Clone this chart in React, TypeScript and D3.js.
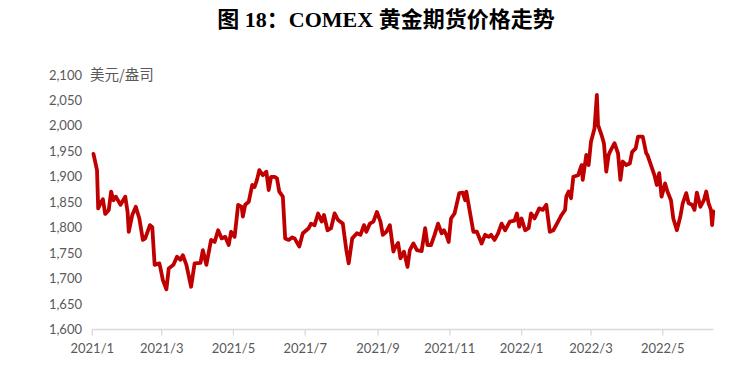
import React from "react";
import * as d3 from "d3";

const TITLE = "图 18：COMEX 黄金期货价格走势";
const UNIT = "美元/盎司";
const Y_TICKS = [1600, 1650, 1700, 1750, 1800, 1850, 1900, 1950, 2000, 2050, 2100];
const X_TICK_LABELS = ["2021/1", "2021/3", "2021/5", "2021/7", "2021/9", "2021/11", "2022/1", "2022/3", "2022/5"];
const X_TICK_MONTHS = [0, 2, 4, 6, 8, 10, 12, 14, 16];

// days since 2021-01-01
const DAYS = [
  1, 4, 5, 7, 9, 11, 14, 16, 18, 20, 24, 28, 30, 31, 34, 37, 40, 43, 45, 49,
  51, 53, 57, 58, 60, 63, 65, 69, 72, 75, 77, 80, 84, 87, 92, 94, 97, 101, 104, 107,
  110, 113, 116, 118, 121, 124, 127, 128, 130, 133, 136, 138, 140, 142, 145, 148, 150, 152, 155, 157,
  159, 162, 164, 167, 170, 172, 176, 179, 184, 186, 189, 192, 195, 197, 200, 203, 206, 209, 213, 216,
  218, 221, 225, 228, 231, 233, 236, 239, 242, 245, 247, 250, 253, 256, 257, 260, 262, 265, 268, 270,
  273, 276, 280, 283, 285, 288, 291, 294, 297, 299, 301, 303, 305, 308, 312, 315, 317, 318, 324, 327,
  331, 334, 337, 339, 342, 345, 348, 351, 355, 359, 361, 363, 365, 368, 371, 373, 376, 380, 383, 386,
  389, 392, 396, 399, 402, 403, 405, 407, 409, 413, 416, 417, 420, 422, 424, 427, 429, 430, 433, 435,
  437, 439, 441, 444, 447, 449, 451, 454, 457, 459, 462, 464, 468, 471, 472, 475, 478, 480, 482, 484,
  487, 489, 492, 494, 497, 500, 502, 505, 507, 510, 512, 514, 517, 520, 522, 524, 526, 527, 528,
];
const PRICES = [
  1945, 1913, 1838, 1848, 1856, 1827, 1835, 1871, 1854, 1861, 1845, 1861, 1831, 1792, 1825, 1841, 1818, 1776, 1779, 1805,
  1801, 1727, 1730, 1720, 1697, 1679, 1720, 1727, 1743, 1737, 1746, 1727, 1684, 1730, 1731, 1756, 1727, 1776, 1772, 1795,
  1779, 1782, 1766, 1792, 1782, 1845, 1841, 1822, 1845, 1851, 1884, 1880, 1894, 1913, 1903, 1910, 1874, 1900, 1900, 1897,
  1871, 1861, 1779, 1776, 1781, 1779, 1763, 1789, 1799, 1808, 1805, 1828, 1812, 1825, 1795, 1799, 1828, 1815, 1808, 1756,
  1730, 1779, 1789, 1786, 1805, 1792, 1808, 1812, 1831, 1812, 1786, 1792, 1805, 1753, 1759, 1770, 1740, 1753, 1723, 1756,
  1769, 1756, 1754, 1799, 1766, 1766, 1786, 1808, 1789, 1795, 1786, 1772, 1818, 1828, 1868, 1869, 1854, 1871, 1792, 1792,
  1769, 1786, 1782, 1786, 1776, 1789, 1808, 1795, 1812, 1814, 1828, 1802, 1818, 1795, 1799, 1828, 1818, 1838, 1835, 1845,
  1792, 1795, 1812, 1825, 1835, 1861, 1871, 1858, 1900, 1903, 1923, 1894, 1943, 1923, 1969, 1995, 2061, 2002, 1982, 1966,
  1910, 1943, 1953, 1966, 1946, 1894, 1930, 1923, 1926, 1949, 1956, 1979, 1979, 1946, 1943, 1923, 1903, 1884, 1907, 1861,
  1887, 1871, 1854, 1818, 1795, 1822, 1848, 1868, 1848, 1845, 1835, 1869, 1841, 1854, 1871, 1848, 1835, 1805, 1832,
];

const START = Date.UTC(2021, 0, 1);

export default function App() {
  const W = 736;
  const H = 376;
  const x = d3
    .scaleUtc()
    .domain([new Date(START), d3.utcDay.offset(new Date(START), 528)])
    .range([92.3, 713.3]);
  const y = d3.scaleLinear().domain([1600, 2100]).range([329.5, 75]);

  const points: [Date, number][] = DAYS.map((d, i) => [d3.utcDay.offset(new Date(START), d), PRICES[i]]);
  const line = d3
    .line<[Date, number]>()
    .x((p) => x(p[0]))
    .y((p) => y(p[1]))
    .curve(d3.curveLinear);

  const fmt = d3.format(",");
  const labelFont = "Lato, 'Open Sans', sans-serif";

  return (
    <svg
      width={W}
      height={H}
      viewBox={`0 0 ${W} ${H}`}
      style={{ position: "absolute", left: 0, top: 0, background: "#fff" }}
    >
      <rect x={0} y={0} width={W} height={H} fill="#fff" />
      <text
        x={386}
        y={27}
        textAnchor="middle"
        fontFamily="'Liberation Serif', 'Noto Sans CJK SC', serif"
        fontWeight="bold"
        fontSize={22}
        fill="#000"
      >
        {TITLE}
      </text>

      {Y_TICKS.map((t) => (
        <text
          key={t}
          x={82}
          y={y(t)}
          dy="0.35em"
          textAnchor="end"
          fontFamily={labelFont}
          fontSize={13}
          fill="#595959"
        >
          {fmt(t)}
        </text>
      ))}
      <text
        x={90}
        y={y(2100)}
        dy="0.35em"
        fontFamily="'Noto Sans CJK SC', sans-serif"
        fontSize={14.5}
        fill="#595959"
      >
        {UNIT}
      </text>

      <line x1={92.3} x2={713.3} y1={y(1600)} y2={y(1600)} stroke="#d9d9d9" strokeWidth={1.3} />
      {X_TICK_MONTHS.map((m, i) => {
        const d = d3.utcMonth.offset(new Date(START), m);
        const xp = x(d);
        return (
          <g key={m}>
            <line x1={xp} x2={xp} y1={y(1600)} y2={y(1600) + 6} stroke="#d9d9d9" strokeWidth={1.3} />
            <text
              x={xp}
              y={353}
              textAnchor="middle"
              fontFamily={labelFont}
              fontSize={13}
              fill="#595959"
            >
              {X_TICK_LABELS[i]}
            </text>
          </g>
        );
      })}

      <path
        d={line(points) || ""}
        fill="none"
        stroke="#c00000"
        strokeWidth={3.8}
        strokeLinejoin="round"
        strokeLinecap="round"
      />
    </svg>
  );
}
